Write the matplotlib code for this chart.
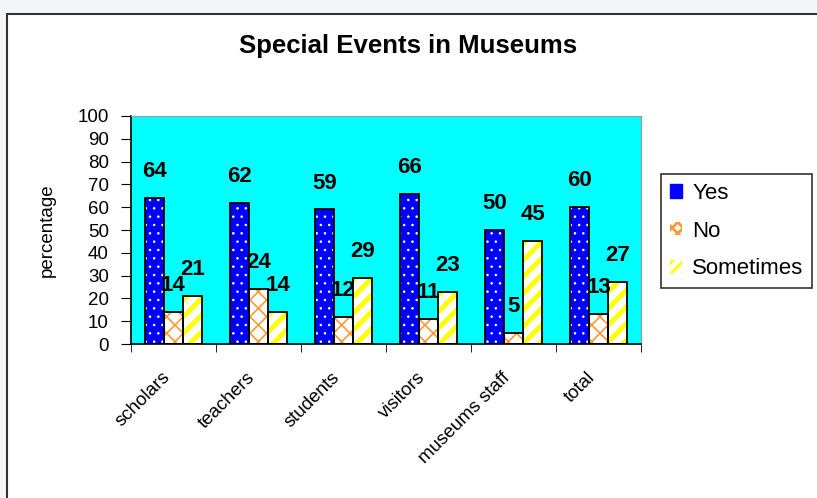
import matplotlib

matplotlib.use("Agg")

import matplotlib.pyplot as plt
import numpy as np
from matplotlib.patches import Patch, Rectangle
from matplotlib.transforms import ScaledTranslation

CATEGORIES = ["scholars", "teachers", "students", "visitors", "museums staff", "total"]
YES = [64, 62, 59, 66, 50, 60]
NO = [14, 24, 12, 11, 5, 13]
SOMETIMES = [21, 14, 29, 23, 45, 27]
SERIES_NAMES = ["Yes", "No", "Sometimes"]
Y_TICKS = list(range(0, 101, 10))

BLUE = "#0000ff"
ORANGE = "#ff9933"
YELLOW = "#ffff00"
CYAN = "#00ffff"

plt.rcParams["font.family"] = ["Liberation Sans", "DejaVu Sans"]

fig = plt.figure(figsize=(8.17, 4.98), dpi=100)
fig.patch.set_facecolor("#f4f5f6")

# white chart area with dark frame
W, H = 817, 498
fig.add_artist(Rectangle((7 / W, -0.5), 1.2, 1.5 - 14 / H, transform=fig.transFigure,
                         facecolor="white", edgecolor="#333333", linewidth=1.5, zorder=0))

ax = fig.add_axes([131 / W, 1 - 344 / H, (641 - 131) / W, (344 - 116) / H])
ax.set_facecolor(CYAN)

x = np.arange(len(CATEGORIES))
width = 0.224
styles = [
    dict(face=BLUE, hatch="..", hcolor="white", hlw=0.6),
    dict(face="white", hatch="xx", hcolor=ORANGE, hlw=1.2),
    dict(face="white", hatch="//", hcolor=YELLOW, hlw=3.5),
]
for i, values in enumerate([YES, NO, SOMETIMES]):
    pos = x + (i - 1) * width
    st = styles[i]
    with plt.rc_context({"hatch.linewidth": st["hlw"]}):
        bars = ax.bar(pos, values, width, color=st["face"], hatch=st["hatch"],
                      edgecolor=st["hcolor"], linewidth=0, zorder=2)
    for b in bars:
        if hasattr(b, "set_hatch_linewidth"):
            b.set_hatch_linewidth(st["hlw"])
    ax.bar(pos, values, width, fill=False, edgecolor="black", linewidth=1.3, zorder=3)
    for px, v in zip(pos, values):
        ax.text(px, v + 7, str(v), ha="center", va="bottom", fontsize=16,
                fontweight="bold", zorder=4)

ax.set_xlim(-0.5, len(CATEGORIES) - 0.5)
ax.set_ylim(0, 100)
ax.set_yticks(Y_TICKS)
ax.tick_params(axis="y", labelsize=13.5, length=7, direction="out", pad=9)
ax.set_xticks(x)
ax.set_xticklabels(CATEGORIES, rotation=45, ha="right", rotation_mode="anchor", fontsize=13.5)
ax.tick_params(axis="x", length=0, pad=18)
shift = ScaledTranslation(-0.12, 0, fig.dpi_scale_trans)
for lbl in ax.get_xticklabels():
    lbl.set_transform(lbl.get_transform() + shift)
ax.set_xticks(np.arange(len(CATEGORIES) + 1) - 0.5, minor=True)
ax.tick_params(axis="x", which="minor", length=6, direction="out")
ax.set_ylabel("percentage", fontsize=13.5)
ax.yaxis.set_label_coords(-(131 - 56) / (641 - 131), 0.5)

for side in ["top", "right"]:
    ax.spines[side].set_color("#999999")
for side in ["left", "bottom"]:
    ax.spines[side].set_color("black")
    ax.spines[side].set_linewidth(1.2)

fig.text(408 / W, 1 - 46 / H, "Special Events in Museums", ha="center", va="center",
         fontsize=18.5, fontweight="bold")

handles = [
    Patch(facecolor=BLUE, edgecolor=BLUE, label=SERIES_NAMES[0]),
    Patch(facecolor="white", edgecolor=ORANGE, hatch="xxx", linewidth=0, label=SERIES_NAMES[1]),
    Patch(facecolor="white", edgecolor=YELLOW, hatch="///", linewidth=0, label=SERIES_NAMES[2]),
]
with plt.rc_context({"hatch.linewidth": 2.0}):
    leg = fig.legend(handles=handles, loc="upper left", bbox_to_anchor=(661 / W, 1 - 174 / H),
                     fontsize=16, frameon=True, fancybox=False, handlelength=0.55,
                     handleheight=0.55, handletextpad=0.45, labelspacing=0.75, borderpad=0.4,
                     borderaxespad=0)
for patch in leg.get_patches():
    if hasattr(patch, "set_hatch_linewidth"):
        patch.set_hatch_linewidth(2.0)
leg.get_frame().set_edgecolor("black")
leg.get_frame().set_linewidth(1.2)

fig.savefig("out.png", dpi=100, facecolor=fig.get_facecolor())
